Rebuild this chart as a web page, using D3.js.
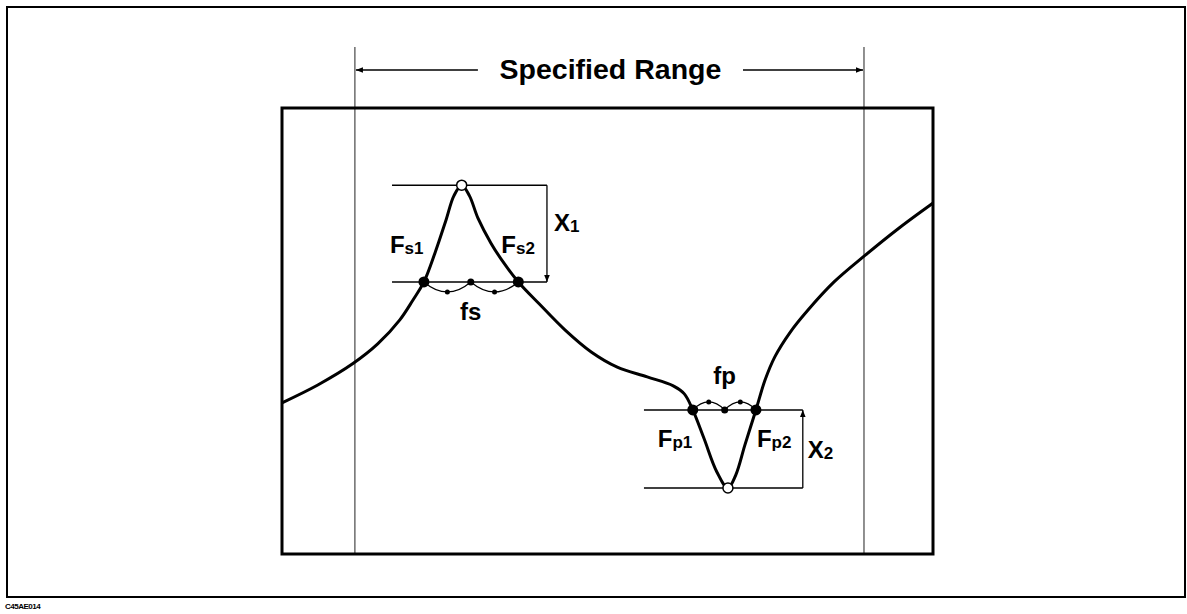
<!DOCTYPE html>
<html>
<head>
<meta charset="utf-8">
<style>
html, body { margin:0; padding:0; background:white; }
svg { display:block; }
text { font-family:"Liberation Sans", Arial, sans-serif; font-weight:bold; fill:black; }
</style>
</head>
<body>
<div id="chart"></div>
<script src="https://d3js.org/d3.v7.min.js"></script>
<script>
// trace of the response curve (frequency 0..100 across the screen, level 0..100 up the screen)
const freq  = [0, 5.5, 10.9, 14.7, 18.1, 20.1, 21.8, 23.5, 25.2, 26.4, 27.6, 28.8, 30.1, 32.1, 34.1, 36.3,
               39.5, 43.5, 47.5, 51.5, 56.1, 60.1, 61.8, 63.1, 64.8, 66.8, 68.5, 69.7, 71.1, 72.8,
               74.2, 75.7, 78.0, 80.8, 84.8, 89.6, 94.8, 100];
const level = [33.9, 37.9, 42.7, 47.1, 52.5, 56.9, 61.0, 67.5, 74.9, 80.3, 82.7, 80.3, 75.3, 69.7, 65.2, 61.0,
               56.1, 50.2, 45.3, 41.9, 39.7, 37.7, 35.9, 32.3, 26.0, 18.4, 14.8, 17.7, 24.4, 32.3,
               39.0, 44.2, 49.6, 54.7, 61.0, 67.0, 73.1, 78.7];

// series resonance (peak) and parallel resonance (dip)
const sPeak   = [27.6, 82.7];
const sPoints = [21.8, 29.0, 36.3];   // Fs1, centre, Fs2
const sLevel  = 61.0;
const sRef    = [16.9, 40.7];         // reference line extent
const pDip    = [68.5, 14.8];
const pPoints = [63.1, 68.0, 72.8];   // Fp1, centre, Fp2
const pLevel  = 32.3;
const pRef    = [55.6, 80.0];
const specRange = [11.2, 89.4];

const W = 1187, H = 614;
const box = {left:282, right:933, top:108, bottom:554};

const svg = d3.select("#chart").append("svg")
    .attr("width", W).attr("height", H);

const x = d3.scaleLinear().domain([0, 100]).range([box.left, box.right]);
const y = d3.scaleLinear().domain([0, 100]).range([box.bottom, box.top]);

// arrowheads
const defs = svg.append("defs");
defs.append("marker").attr("id","arr")
    .attr("viewBox","0 0 10 10").attr("refX",10).attr("refY",5)
    .attr("markerWidth",9).attr("markerHeight",7).attr("markerUnits","userSpaceOnUse")
    .attr("orient","auto")
  .append("path").attr("d","M0,1 L10,5 L0,9 Z").attr("fill","black");

// outer frame
svg.append("rect")
    .attr("x",7).attr("y",7).attr("width",1178).attr("height",590)
    .attr("fill","none").attr("stroke","black").attr("stroke-width",2);

svg.append("text")
    .attr("x",5).attr("y",609)
    .style("font-size","8px").style("letter-spacing","-0.5px")
    .text("C45AE014");

// specified range verticals
svg.selectAll(".spec").data(specRange).enter().append("line")
    .attr("x1", d => x(d)).attr("x2", d => x(d))
    .attr("y1", 47).attr("y2", box.bottom)
    .attr("stroke","#222").attr("stroke-width",1);

const arrowY = 70;
const mid = (x(specRange[0]) + x(specRange[1])) / 2;
svg.append("line")
    .attr("x1", x(specRange[0]) + 123).attr("x2", x(specRange[0]) + 1)
    .attr("y1", arrowY).attr("y2", arrowY)
    .attr("stroke","black").attr("stroke-width",1.3).attr("marker-end","url(#arr)");
svg.append("line")
    .attr("x1", x(specRange[1]) - 121).attr("x2", x(specRange[1]) - 1)
    .attr("y1", arrowY).attr("y2", arrowY)
    .attr("stroke","black").attr("stroke-width",1.3).attr("marker-end","url(#arr)");
svg.append("text")
    .attr("x", mid + 1).attr("y", arrowY + 9)
    .attr("text-anchor","middle")
    .style("font-size","28.5px")
    .text("Specified Range");

// plot box
svg.append("rect")
    .attr("x",box.left).attr("y",box.top)
    .attr("width",box.right-box.left).attr("height",box.bottom-box.top)
    .attr("fill","none").attr("stroke","black").attr("stroke-width",3);

// reference lines
const refs = [
  [sRef[0], sPeak[1], sRef[1], sPeak[1]],
  [sRef[0], sLevel,   sRef[1], sLevel],
  [pRef[0], pLevel,   pRef[1], pLevel],
  [pRef[0], pDip[1],  pRef[1], pDip[1]]
];
svg.selectAll(".ref").data(refs).enter().append("line")
    .attr("x1", d => x(d[0])).attr("y1", d => y(d[1]))
    .attr("x2", d => x(d[2])).attr("y2", d => y(d[3]))
    .attr("stroke","black").attr("stroke-width",1.5);

// X1 / X2 arrows
svg.append("line")
    .attr("x1", x(sRef[1])).attr("x2", x(sRef[1]))
    .attr("y1", y(sPeak[1])).attr("y2", y(sLevel))
    .attr("stroke","black").attr("stroke-width",1.3).attr("marker-end","url(#arr)");
svg.append("line")
    .attr("x1", x(pRef[1])).attr("x2", x(pRef[1]))
    .attr("y1", y(pDip[1])).attr("y2", y(pLevel))
    .attr("stroke","black").attr("stroke-width",1.3).attr("marker-end","url(#arr)");

// curve
const curve = d3.line()
    .x(d => x(d[0])).y(d => y(d[1]))
    .curve(d3.curveCatmullRom.alpha(0.5));
svg.append("path")
    .datum(d3.zip(freq, level))
    .attr("d", curve)
    .attr("fill","none").attr("stroke","black").attr("stroke-width",3)
    .attr("stroke-linejoin","round");

// braces between points: bow down for fs, up for fp
function braces(pts, lev, bow) {
  for (let i = 0; i < pts.length - 1; i++) {
    const x0 = x(pts[i]), x1 = x(pts[i+1]), yy = y(lev);
    const xm = (x0 + x1) / 2;
    svg.append("path")
        .attr("d", `M${x0},${yy} Q${xm},${yy + bow * 2} ${x1},${yy}`)
        .attr("fill","none").attr("stroke","black").attr("stroke-width",1.2);
    svg.append("circle").attr("cx", xm).attr("cy", yy + bow).attr("r", 2.5).attr("fill","black");
  }
}
braces(sPoints, sLevel, 10);
braces(pPoints, pLevel, -8);

// dots
svg.selectAll(".sdot").data([sPoints[0], sPoints[2]]).enter().append("circle")
    .attr("cx", d => x(d)).attr("cy", y(sLevel)).attr("r", 5.5).attr("fill","black");
svg.selectAll(".pdot").data([pPoints[0], pPoints[2]]).enter().append("circle")
    .attr("cx", d => x(d)).attr("cy", y(pLevel)).attr("r", 5.5).attr("fill","black");
svg.append("circle").attr("cx", x(sPoints[1])).attr("cy", y(sLevel)).attr("r", 3.5).attr("fill","black");
svg.append("circle").attr("cx", x(pPoints[1])).attr("cy", y(pLevel)).attr("r", 3.5).attr("fill","black");
svg.selectAll(".open").data([sPeak, pDip]).enter().append("circle")
    .attr("cx", d => x(d[0])).attr("cy", d => y(d[1])).attr("r", 5)
    .attr("fill","white").attr("stroke","black").attr("stroke-width",1.5);

// labels
function label(px, py, main, sub) {
  const t = svg.append("text").attr("x", px).attr("y", py).style("font-size","24px");
  t.append("tspan").text(main);
  t.append("tspan").style("font-size","17px").attr("dy", 1).text(sub);
}
label(x(sPoints[0]) - 34, y(sLevel) - 29, "F", "s1");
label(x(sPoints[2]) - 17, y(sLevel) - 29, "F", "s2");
label(x(sRef[1]) + 7, y(sLevel) - 51, "X", "1");
label(x(pPoints[0]) - 35, y(pLevel) + 37, "F", "p1");
label(x(pPoints[2]) + 1, y(pLevel) + 37, "F", "p2");
label(x(pRef[1]) + 5, y(pLevel) + 48, "X", "2");

svg.append("text").attr("x", x(sPoints[1])).attr("y", y(sLevel) + 38)
    .attr("text-anchor","middle").style("font-size","24px").text("fs");
svg.append("text").attr("x", x(pPoints[1])).attr("y", y(pLevel) - 26)
    .attr("text-anchor","middle").style("font-size","24px").text("fp");
</script>
</body>
</html>
